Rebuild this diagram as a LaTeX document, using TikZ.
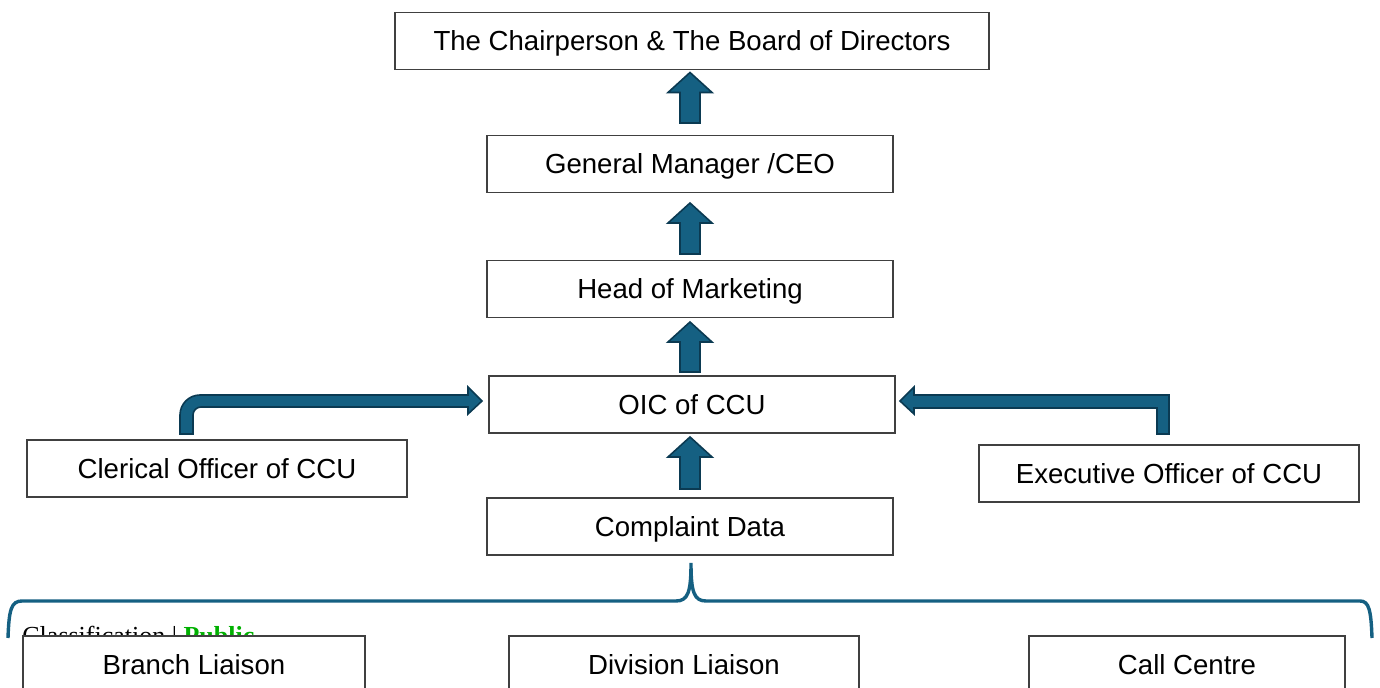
\documentclass[tikz,border=0pt]{standalone}
\usepackage{fontspec}
\setmainfont{Liberation Sans}
\newfontfamily\clsfont{Liberation Serif}
\usetikzlibrary{calc}
\definecolor{arrowfill}{HTML}{156082}
\definecolor{arrowedge}{HTML}{0B3A52}
\definecolor{boxedge}{HTML}{404040}
\definecolor{pubgreen}{HTML}{00B000}
\tikzset{
  box/.style={draw=boxedge, line width=0.6pt, fill=white, minimum height=28.5pt, inner sep=0pt,
    text height=9.9pt, text depth=0pt,
    font=\fontsize{13.8}{16}\selectfont, text=black},
  blockarrow/.style={fill=arrowfill, draw=arrowedge, line width=0.8pt, line join=miter},
  bracestyle/.style={draw=arrowfill, line width=1.7pt, line cap=butt}
}
\begin{document}
\begin{tikzpicture}[x=0.5pt, y=-0.5pt]
\useasboundingbox (0,0) rectangle (1380,688);
\clip (0,0) rectangle (1380,688);

% classification label (partly hidden behind the box)
\node[anchor=base west, inner sep=0pt, font=\fontsize{13}{15}\selectfont\clsfont] (cls) at (22,645)
  {Classification | \textcolor{pubgreen}{\bfseries Public}};

% nodes
\node[box, minimum width=297pt] (chair) at (692,41) {The Chairperson \& The Board of Directors};
\node[box, minimum width=203pt] (gm) at (690,164) {General Manager /CEO};
\node[box, minimum width=203pt] (hom) at (690,289) {Head of Marketing};
\node[box, minimum width=203pt] (oic) at (692,404.5) {OIC of CCU};
\node[box, minimum width=203pt] (cd) at (690,526.5) {Complaint Data};
\node[box, minimum width=190pt] (clerk) at (217,468.5) {Clerical Officer of CCU};
\node[box, minimum width=190pt] (exec) at (1169,473.5) {Executive Officer of CCU};
\node[box, minimum width=171pt] (branch) at (194,664.5) {Branch Liaison};
\node[box, minimum width=175pt] (div) at (684,664.5) {Division Liaison};
\node[box, minimum width=158pt] (call) at (1187,664.5) {Call Centre};

% vertical block arrows from lower box to upper box
\newcommand{\blockup}[3]{% x, tip y, bottom y
  \path[blockarrow] (#1-10,#3) -- (#1-10,#2+20) -- (#1-22,#2+20) -- (#1,#2) -- (#1+22,#2+20)
    -- (#1+10,#2+20) -- (#1+10,#3) -- cycle;}
\blockup{690}{72.5}{123}
\blockup{690}{203}{254}
\blockup{690}{322}{372}
\blockup{690}{437}{489}

% bent arrow from clerical officer to OIC
\path[blockarrow] (180,434) -- (180,415) arc[start angle=180, end angle=270, radius=20] -- (468,395)
  -- (468,387) -- (482,401) -- (468,414) -- (468,407) -- (201,407)
  arc[start angle=270, end angle=180, radius=8] -- (193,434) -- cycle;

% bent arrow from executive officer to OIC
\path[blockarrow] (1169,434) -- (1169,395) -- (914,395) -- (914,387) -- (900,401) -- (914,414)
  -- (914,408) -- (1157,408) -- (1157,434) -- cycle;

% brace below complaint data
\draw[bracestyle] (8,638) .. controls (9,610) and (11,601) .. (22,601) -- (676,601)
  .. controls (688,601) and (691,592) .. (691,563)
  .. controls (691,592) and (694,601) .. (706,601) -- (1360,601)
  .. controls (1369,601) and (1371,610) .. (1372,638);
\end{tikzpicture}
\end{document}
